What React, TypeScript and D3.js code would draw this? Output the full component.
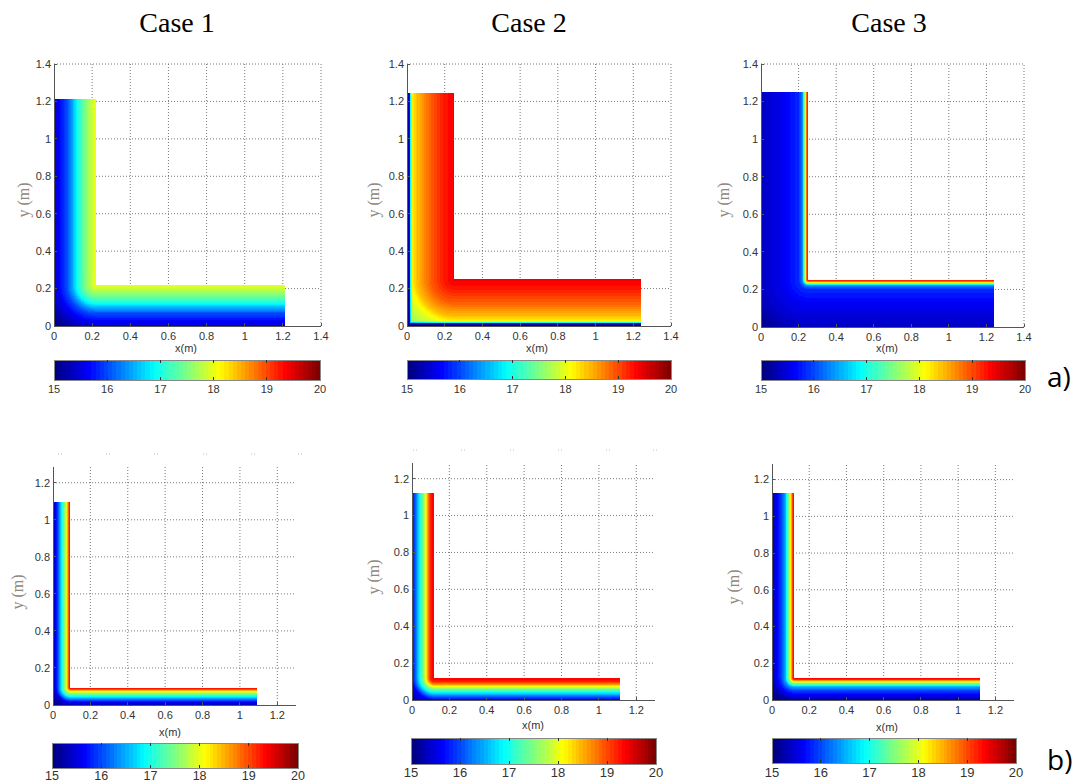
import React, { useMemo } from 'react';
import * as d3 from 'd3';

// ---- labels and ticks ----
const caseTitles = ['Case 1', 'Case 2', 'Case 3'];
const rowLabels = ['a)', 'b)'];
const colorTicks = [15, 16, 17, 18, 19, 20];
const tempDomain: [number, number] = [15, 20];
const axisTicksA = [0, 0.2, 0.4, 0.6, 0.8, 1, 1.2, 1.4];
const axisTicksB = [0, 0.2, 0.4, 0.6, 0.8, 1, 1.2];

// ---- L-shaped section geometry (m): wall thickness, vertical leg height, horizontal leg length ----
const thicknessA = [0.22, 0.25, 0.25];
const legHeightA = [1.215, 1.245, 1.25];
const legLengthA = [1.21, 1.24, 1.24];
const thicknessB = [0.093, 0.12, 0.12];
const legHeightB = [1.095, 1.125, 1.125];
const legLengthB = [1.09, 1.115, 1.118];

// ---- temperature through the wall (°C) ----
// depth: 0 = outer face, 1 = inner face; negative values reach into the outer corner
const depthA1 = [-0.42, -0.2, 0, 0.1, 0.3, 0.42, 0.57, 0.77, 1];
const tempA1 = [15.0, 15.2, 15.45, 15.6, 16.0, 16.4, 17.0, 17.55, 18.05];
const depthA2 = [-0.42, -0.2, 0, 0.1, 0.2, 0.5, 0.8, 1];
const tempA2 = [17.4, 17.7, 17.95, 18.15, 18.4, 18.9, 19.25, 19.4];
const depthA3 = [-0.42, -0.2, 0, 0.5, 0.8, 0.88, 0.91, 0.94, 0.97, 1];
const tempA3 = [15.05, 15.2, 15.35, 15.6, 15.85, 16.3, 17.0, 18.0, 18.8, 19.4];
const depthB1 = [-0.42, 0, 0.2, 0.35, 0.52, 0.65, 0.77, 0.87, 0.94, 1];
const tempB1 = [15.0, 15.25, 15.7, 16.3, 17.0, 17.5, 18.0, 18.7, 19.2, 19.4];
const depthB2 = [-0.42, 0, 0.2, 0.37, 0.5, 0.6, 0.7, 0.82, 1];
const tempB2 = [15.2, 15.6, 16.3, 17.0, 17.5, 18.0, 18.6, 19.2, 19.4];
const depthB3 = [-0.42, 0, 0.4, 0.6, 0.66, 0.75, 0.81, 0.88, 0.93, 1];
const tempB3 = [15.0, 15.2, 15.9, 16.5, 17.0, 17.5, 18.0, 18.6, 19.2, 19.4];

// cold film on the outer faces (row a, case 2): distance from face (m) and weight toward the core value
const filmDistA2 = [0, 0.012, 0.017, 0.021, 0.028];
const filmWeightA2 = [0, 0.12, 0.5, 0.85, 1];

// ---- layout (pixels) ----
const panelBoxes = [
  { left: 54, right: 321, bottom: 326, top: 64, xMax: 1.4, yMax: 1.4, cb: [54, 320, 360, 380], cbLabelY: 392.5, cbFont: 11, yLab: [23, 200], xLab: [186, 352], title: 177 },
  { left: 407, right: 671, bottom: 326, top: 64, xMax: 1.4, yMax: 1.4, cb: [407, 671, 360, 379], cbLabelY: 392.5, cbFont: 11, yLab: [373, 200], xLab: [537, 352], title: 529 },
  { left: 761, right: 1024, bottom: 327, top: 64, xMax: 1.4, yMax: 1.4, cb: [761, 1025, 360, 380], cbLabelY: 392.5, cbFont: 11, yLab: [723, 200], xLab: [887, 352], title: 889 },
  { left: 53, right: 296, bottom: 705, top: 467, xMax: 1.3, yMax: 1.285, cb: [52, 298, 743, 768], cbLabelY: 780, cbFont: 12.5, yLab: [17, 592], xLab: [170, 736] },
  { left: 412, right: 655, bottom: 700, top: 463, xMax: 1.3, yMax: 1.285, cb: [411, 656, 738, 764], cbLabelY: 777, cbFont: 13, yLab: [373, 577], xLab: [533, 729] },
  { left: 772, right: 1014, bottom: 700, top: 464, xMax: 1.3, yMax: 1.285, cb: [772, 1016, 738, 763], cbLabelY: 777, cbFont: 13, yLab: [733, 587], xLab: [887, 731] },
];

const fmt = d3.format('~g');
const SANS = 'Arial, "Liberation Sans", Helvetica, sans-serif';
const SERIF = '"Times New Roman", "Liberation Serif", serif';

// MATLAB-style jet colormap with 64 entries
const clamp01 = (v: number) => Math.max(0, Math.min(1, v));
function jet(t: number): [number, number, number] {
  const r = clamp01(1.5 - Math.abs(4 * t - 3));
  const g = clamp01(1.5 - Math.abs(4 * t - 2));
  const b = clamp01(1.5 - Math.abs(4 * t - 1));
  return [Math.round(r * 255), Math.round(g * 255), Math.round(b * 255)];
}
const tempToUnit = d3.scaleLinear().domain(tempDomain).range([0, 1]).clamp(true);
const N_COLORS = 64;
const jetIndex = (T: number) => Math.min(N_COLORS - 1, Math.floor(tempToUnit(T) * N_COLORS));
const jetColor = (i: number) => jet(i / (N_COLORS - 1));
const rgbStr = (c: number[]) => `rgb(${c[0]},${c[1]},${c[2]})`;

type Section = {
  W: number; H: number; L: number;
  profile: (u: number) => number;
  film?: (d: number) => number;
};

function makeSection(W: number, H: number, L: number, depth: number[], temp: number[], filmD?: number[], filmW?: number[]): Section {
  const profile = d3.scaleLinear().domain(depth).range(temp).clamp(true);
  const film = filmD && filmW ? d3.scaleLinear().domain(filmD).range(filmW).clamp(true) : undefined;
  return { W, H, L, profile, film };
}

const sections: Section[] = [
  makeSection(thicknessA[0], legHeightA[0], legLengthA[0], depthA1, tempA1),
  makeSection(thicknessA[1], legHeightA[1], legLengthA[1], depthA2, tempA2, filmDistA2, filmWeightA2),
  makeSection(thicknessA[2], legHeightA[2], legLengthA[2], depthA3, tempA3),
  makeSection(thicknessB[0], legHeightB[0], legLengthB[0], depthB1, tempB1),
  makeSection(thicknessB[1], legHeightB[1], legLengthB[1], depthB2, tempB2),
  makeSection(thicknessB[2], legHeightB[2], legLengthB[2], depthB3, tempB3),
];

function inside(s: Section, x: number, y: number) {
  if (x < 0 || y < 0) return false;
  return (x <= s.W && y <= s.H) || (y <= s.W && x <= s.L);
}

function temperature(s: Section, x: number, y: number) {
  const W = s.W;
  let depth: number;
  if (x >= W) depth = y;
  else if (y >= W) depth = x;
  else depth = W - Math.hypot(W - x, W - y);
  let T = s.profile(depth / W);
  if (s.film) {
    const d = Math.min(x, y);
    T = tempDomain[0] + (T - tempDomain[0]) * s.film(d);
  }
  return T;
}

function renderField(s: Section, xs: d3.ScaleLinear<number, number>, ys: d3.ScaleLinear<number, number>, left: number, top: number, w: number, h: number) {
  const canvas = document.createElement('canvas');
  canvas.width = w;
  canvas.height = h;
  const ctx = canvas.getContext('2d');
  if (!ctx) return '';
  const img = ctx.createImageData(w, h);
  const palette = d3.range(N_COLORS).map(jetColor);
  for (let j = 0; j < h; j++) {
    const y = ys.invert(top + j + 0.5);
    for (let i = 0; i < w; i++) {
      const x = xs.invert(left + i + 0.5);
      if (!inside(s, x, y)) continue;
      const c = palette[jetIndex(temperature(s, x, y))];
      const k = (j * w + i) * 4;
      img.data[k] = c[0];
      img.data[k + 1] = c[1];
      img.data[k + 2] = c[2];
      img.data[k + 3] = 255;
    }
  }
  ctx.putImageData(img, 0, 0);
  return canvas.toDataURL();
}

function Panel({ idx }: { idx: number }) {
  const box = panelBoxes[idx];
  const sec = sections[idx];
  const isA = idx < 3;
  const ticks = isA ? axisTicksA : axisTicksB;
  const xs = d3.scaleLinear().domain([0, box.xMax]).range([box.left, box.right]);
  const ys = d3.scaleLinear().domain([0, box.yMax]).range([box.bottom, box.top]);
  const w = Math.round(box.right - box.left);
  const h = Math.round(box.bottom - box.top);
  const href = useMemo(() => renderField(sec, xs, ys, box.left, box.top, w, h), [idx]);

  const [cx0, cx1, cy0, cy1] = box.cb;
  const cbScale = d3.scaleLinear().domain(tempDomain).range([cx0, cx1]);
  const step = (tempDomain[1] - tempDomain[0]) / N_COLORS;

  return (
    <g>
      {/* grid */}
      <g stroke="#7a7a7a" strokeWidth={1} strokeDasharray="1,2" fill="none">
        {ticks.filter((t) => t > 0).map((t) => (
          <line key={'gx' + t} x1={xs(t)} x2={xs(t)} y1={box.bottom} y2={box.top} />
        ))}
        {ticks.filter((t) => t > 0).map((t) => (
          <line key={'gy' + t} x1={box.left} x2={box.right} y1={ys(t)} y2={ys(t)} />
        ))}
      </g>
      {/* temperature field */}
      <image href={href} x={box.left} y={box.top} width={w} height={h} />
      {/* axes */}
      <g stroke="#555" strokeWidth={1} shapeRendering="crispEdges">
        <line x1={box.left} x2={box.left} y1={box.bottom} y2={box.top} />
        <line x1={box.left} x2={box.right} y1={box.bottom} y2={box.bottom} />
        {ticks.map((t) => (
          <line key={'tx' + t} x1={xs(t)} x2={xs(t)} y1={box.bottom} y2={box.bottom - 3} />
        ))}
        {ticks.map((t) => (
          <line key={'ty' + t} x1={box.left} x2={box.left + 3} y1={ys(t)} y2={ys(t)} />
        ))}
      </g>
      <g fontFamily={SANS} fontSize={11} fill="#333">
        {ticks.map((t) => (
          <text key={'lx' + t} x={xs(t)} y={box.bottom + 14} textAnchor="middle">{fmt(t)}</text>
        ))}
        {ticks.map((t) => (
          <text key={'ly' + t} x={box.left - 3} y={ys(t)} dy="0.35em" textAnchor="end">{fmt(t)}</text>
        ))}
        <text x={box.xLab[0]} y={box.xLab[1]} textAnchor="middle">x(m)</text>
      </g>
      <text
        transform={`translate(${box.yLab[0]},${box.yLab[1]}) rotate(-90)`}
        textAnchor="middle"
        dy="0.35em"
        fontFamily={SERIF}
        fontSize={16}
        fill="#8f8780"
      >
        y (m)
      </text>
      {/* colour bar */}
      <g shapeRendering="crispEdges">
        {d3.range(N_COLORS).map((i) => (
          <rect
            key={'cb' + i}
            x={cbScale(tempDomain[0] + i * step)}
            y={cy0}
            width={cbScale(tempDomain[0] + (i + 1) * step) - cbScale(tempDomain[0] + i * step) + 0.6}
            height={cy1 - cy0}
            fill={rgbStr(jetColor(i))}
          />
        ))}
        <rect x={cx0} y={cy0} width={cx1 - cx0} height={cy1 - cy0} fill="none" stroke="#888" />
        {colorTicks.slice(1, -1).map((t) => (
          <g key={'ct' + t} stroke="#333">
            <line x1={cbScale(t)} x2={cbScale(t)} y1={cy0} y2={cy0 + 3} />
            <line x1={cbScale(t)} x2={cbScale(t)} y1={cy1} y2={cy1 - 3} />
          </g>
        ))}
      </g>
      <g fontFamily={SANS} fontSize={box.cbFont} fill="#333" textAnchor="middle">
        {colorTicks.map((t) => (
          <text key={'cl' + t} x={cbScale(t)} y={box.cbLabelY}>{t}</text>
        ))}
      </g>
    </g>
  );
}

// faint clipped marks above the lower panels
const strayMarks = [
  { y: 454, xs: [60, 108, 156, 205, 253, 300] },
  { y: 450, xs: [415, 463, 512, 560, 608, 655] },
];

export default function App() {
  return (
    <svg
      width={1077}
      height={783}
      viewBox="0 0 1077 783"
      style={{ position: 'absolute', left: 0, top: 0, background: '#fff' }}
    >
      <rect x={0} y={0} width={1077} height={783} fill="#fff" />
      {caseTitles.map((t, i) => (
        <text key={t} x={panelBoxes[i].title} y={32} textAnchor="middle" fontFamily={SERIF} fontSize={28} fill="#000">
          {t}
        </text>
      ))}
      {panelBoxes.map((_, i) => (
        <Panel key={i} idx={i} />
      ))}
      {strayMarks.map((m, k) => (
        <g key={'sm' + k} stroke="#bbb" strokeWidth={1}>
          {m.xs.map((x) => (
            <g key={x}>
              <line x1={x - 2} x2={x - 1} y1={m.y} y2={m.y} />
              <line x1={x + 1} x2={x + 2} y1={m.y} y2={m.y} />
            </g>
          ))}
        </g>
      ))}
      <text x={1047} y={387} fontFamily='"Open Sans", "Liberation Sans", sans-serif' fontSize={28} fill="#000">{rowLabels[0]}</text>
      <text x={1047} y={770} fontFamily='"Open Sans", "Liberation Sans", sans-serif' fontSize={28} fill="#000">{rowLabels[1]}</text>
    </svg>
  );
}
